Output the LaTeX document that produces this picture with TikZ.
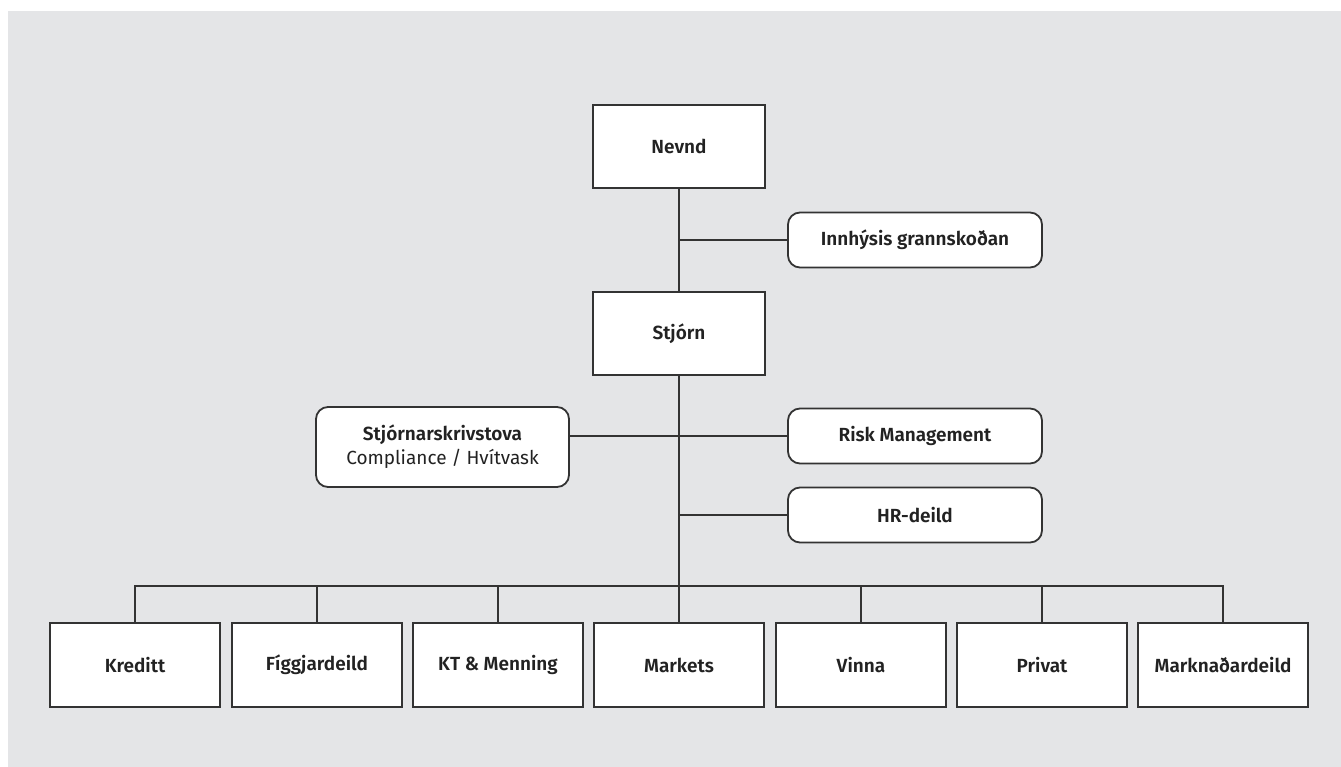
\documentclass[tikz,border=0pt]{standalone}
\usepackage{fontspec}
\setmainfont{Fira Sans}[BoldFont={Fira Sans SemiBold}]
\definecolor{bg}{HTML}{E4E5E7}
\definecolor{ln}{HTML}{333333}
\definecolor{tx}{HTML}{222222}
\begin{document}
\begin{tikzpicture}[x=1pt,y=-1pt,
  box/.style={draw=ln,line width=1.8pt,fill=white,inner sep=0pt,text=tx,font=\fontsize{19}{23}\selectfont\bfseries},
  sqbox/.style={box,minimum width=172pt,minimum height=83pt},
  rbox/.style={box,rounded corners=12pt,minimum width=254pt,minimum height=55pt},
  unit/.style={box,minimum width=170pt,minimum height=84pt},
  conn/.style={draw=ln,line width=1.8pt}]
\useasboundingbox (0,0) rectangle (1341,767);
\fill[white] (0,0) rectangle (1341,767);
\fill[bg] (8,11) rectangle (1341,767);

\node[sqbox] (nevnd) at (679,146.5) {Nevnd};
\node[sqbox] (stjorn) at (679,333.5) {Stjórn};
\node[rbox] (innh) at (915,240) {Innhýsis grannskoðan};
\node[rbox] (risk) at (915,436) {Risk Management};
\node[rbox] (hr) at (915,515) {HR-deild};
\node[rbox,minimum width=253pt,minimum height=80pt,align=center] (skriv) at (442.5,447)
  {Stjórnarskrivstova\\[1pt]{\mdseries Compliance / Hvítvask}};

\node[unit] (u1) at (135,665) {Kreditt};
\node[unit] (u2) at (317,665) {Fíggjardeild};
\node[unit] (u3) at (498,665) {KT \& Menning};
\node[unit] (u4) at (679,665) {Markets};
\node[unit] (u5) at (861,665) {Vinna};
\node[unit] (u6) at (1042,665) {Privat};
\node[unit] (u7) at (1223,665) {Marknaðardeild};

\coordinate (bus) at (679,586);
\coordinate (busL) at (135,586);
\coordinate (busR) at (1223,586);

\draw[conn] (nevnd.south) -- (stjorn.north);
\draw[conn] (stjorn.south) -- (bus);
\draw[conn] (innh.west) -- (innh.west -| nevnd.south);
\draw[conn] (risk.west) -- (risk.west -| skriv.east);
\draw[conn] (hr.west) -- (hr.west -| stjorn.south);
\draw[conn,line cap=rect] (busL) -- (busR);
\foreach \u in {u1,u2,u3,u5,u6,u7}
  \draw[conn] (\u.north) -- (\u.north |- bus);
\draw[conn] (bus) -- (u4.north);
\end{tikzpicture}
\end{document}
